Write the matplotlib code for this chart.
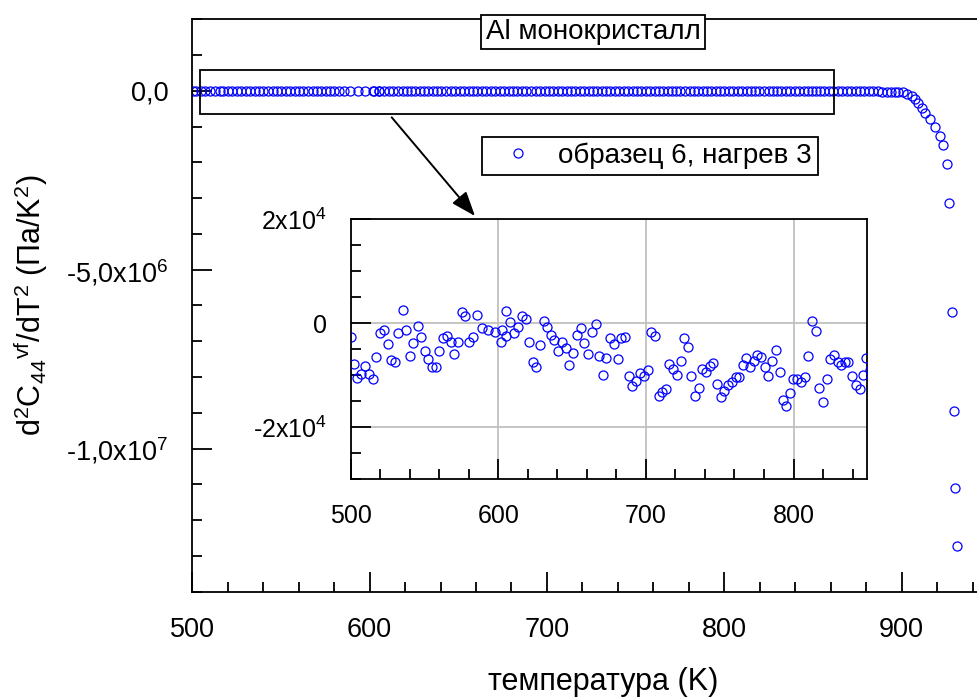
import matplotlib
matplotlib.use("Agg")
import matplotlib.pyplot as plt
from matplotlib.patches import Rectangle
from matplotlib.ticker import MultipleLocator, FixedLocator, FixedFormatter

plt.rcParams['font.family'] = 'Liberation Sans'
plt.rcParams['mathtext.default'] = 'regular'

# sample 6, heating 3: temperature (K) and d2C44/dT2 (Pa/K^2)
temp = [500.5, 502.3, 504.7, 507.0, 509.8, 512.6, 515.4, 517.5, 520.0, 522.6,
        525.2, 527.5, 530.3, 532.4, 535.2, 537.5, 540.1, 542.6, 545.4, 547.8,
        550.1, 552.6, 555.2, 557.8, 560.1, 562.7, 565.5, 567.8, 570.3, 572.7,
        575.2, 577.8, 580.1, 582.9, 585.5, 589.0, 593.4, 597.5, 601.8, 602.7,
        605.1, 605.3,
        608.1, 610.9, 613.4, 615.8, 618.6, 620.9, 623.5, 625.8, 628.3, 630.9,
        633.2, 635.8, 638.1, 640.5, 643.3, 645.8, 648.1, 650.7, 653.5, 655.8,
        658.2, 660.7, 663.3, 665.9, 668.2, 670.7, 673.3, 675.9, 678.4, 681.0,
        683.3, 686.1, 688.4, 690.8, 693.6, 696.1, 698.7, 701.3, 703.6, 706.1,
        708.7, 711.2, 713.6, 715.9, 718.5, 721.1, 723.6, 726.0, 728.3, 730.8,
        733.4,
        735.7, 738.3, 740.6, 743.4, 745.7, 748.3, 750.9, 753.2, 755.8, 758.3,
        760.7, 763.2, 765.5, 768.1, 770.7, 773.0, 775.3, 778.1, 780.7, 783.0,
        785.3, 787.9, 790.5, 792.6, 795.1, 797.5, 799.8, 802.6, 805.1, 807.5,
        810.0, 812.6, 814.9, 817.5, 819.8, 822.6, 825.0, 827.5, 829.8, 832.2,
        834.7, 837.1, 839.8, 842.4, 844.7, 847.1, 849.2,
        851.5, 854.0, 856.5, 859.0, 861.5, 864.0, 866.5, 869.0, 871.5, 874.0,
        876.5, 879.0, 881.5, 884.0, 886.5, 889.0, 891.5, 894.0, 896.0, 898.1,
        900.9, 903.2, 905.6, 907.5, 909.4, 911.3, 913.1, 915.9, 918.7, 921.5,
        923.4, 925.4, 926.7, 928.4, 929.3, 930.2, 931.0]

d2c44 = [-2700, -7900, -10600, -9700, -8200, -9800, -10800, -6600, -1900, -1300,
         -4100, -7100, -7400, -1900, 2500, -1400, -6400, -3800, -500, -2700,
         -5400, -7000, -8500, -8400, -5400, -2900, -2400, -3600, -6000, -3600,
         2100, 1300, -3700, -2700, 1500, -1000, -1400, -1700, -3600, -1300,
         -2500, 2400,
         200, -1900, -800, 1400, 700, -3600, -7500, -8400, -4300, 400,
         -800, -2200, -3200, -5300, -3700, -4800, -8000, -5700, -2300, -900,
         -3800, -6000, -1700, -200, -6400, -9900, -6800, -2800, -4100, -7000,
         -2900, -2700, -10100, -12100, -11100, -9600, -10100, -9000, -1800, -2400,
         -14100, -13300, -12700, -7800, -8800, -9900, -7200, -2800, -4500, -10100,
         -14000,
         -12500, -8900, -9400, -8300, -7600, -11700, -14300, -13100, -12000, -11300,
         -10300, -10400, -8000, -6700, -8400, -7300, -6200, -6600, -8400, -10100,
         -7200, -5200, -9500, -14800, -15900, -13500, -10800, -10800, -11400, -10400,
         -6400, 500, -1500, -12400, -15200, -10800, -6900, -6200, -7500, -8000,
         -7500, -7500, -10100, -12000, -12600, -10000, -6800,
         -9000, -10000, -9000, -11000, -10000, -12000, -11000, -13000, -12000, -14000,
         -13000, -15000, -16000, -17000, -19000, -21000, -24000, -27000, -30000, -33000,
         -40000, -80000, -157000, -240000, -340000, -470000, -610000, -780000, -1000000, -1250000,
         -1510000, -2040000, -3130000, -6170000, -8950000, -11100000, -12710000]

main_yticks = [0, -5e6, -1e7]
main_ylabels = ['0,0', '-5,0x10$^6$', '-1,0x10$^7$']
inset_yticks = [2e4, 0, -2e4]
inset_ylabels = ['2x10$^4$', '0', '-2x10$^4$']

fig = plt.figure(figsize=(9.77, 6.98), dpi=100)
ax = fig.add_axes([0.1968, 0.1523, 0.8404, 0.8201])
ax.plot(temp, d2c44, 'o', ms=6.5, mfc='none', mec='blue', mew=0.9,
        label='образец 6, нагрев 3')
ax.set_xlim(500, 963)
ax.set_ylim(-1.4e7, 2e6)
ax.xaxis.set_major_locator(MultipleLocator(100))
ax.xaxis.set_minor_locator(MultipleLocator(20))
ax.yaxis.set_major_locator(FixedLocator(main_yticks))
ax.yaxis.set_major_formatter(FixedFormatter(main_ylabels))
ax.yaxis.set_minor_locator(MultipleLocator(1e6))
for s in ax.spines.values():
    s.set_linewidth(1.3)
ax.tick_params(which='both', direction='in', width=1.3, labelsize=19.5)
ax.tick_params(which='major', length=14.5, pad=18)
ax.tick_params(which='minor', length=7.2)
ax.tick_params(axis='y', pad=17)

ax.set_xlabel('температура (K)', fontsize=22)
ax.xaxis.set_label_coords(0.5, -0.132)
ax.set_ylabel('d$^2$C$_{44}{}^{vf}$/dT$^2$ (Па/K$^2$)', fontsize=22)
ax.yaxis.set_label_coords(-0.173, 0.5)

# frame around the region shown in the inset
ax.add_patch(Rectangle((504.3, -6.6e5), 357.5, 1.25e6, fill=False,
                       ec='black', lw=1.3, zorder=3))

leg = ax.legend(loc='center', bbox_to_anchor=(0.6653, 0.7767),
                bbox_transform=fig.transFigure, fontsize=20, frameon=True,
                fancybox=False, framealpha=1, edgecolor='black',
                handletextpad=0.38, borderpad=0.2, handlelength=2.16)
leg.get_frame().set_linewidth(1.3)

fig.text(0.607, 0.954, 'Al монокристалл', fontsize=20, ha='center', va='center',
         bbox=dict(boxstyle='square,pad=0.15', fc='white', ec='black', lw=1.3),
         zorder=5)

ax.annotate('', xy=(0.4862, 0.6905), xycoords='figure fraction',
            xytext=(0.4009, 0.8319), textcoords='figure fraction',
            arrowprops=dict(arrowstyle='-|>,head_length=0.75,head_width=0.28',
                            mutation_scale=20, lw=1.4, color='black',
                            shrinkA=0, shrinkB=0))

# inset: zoom on 500-850 K
ins = fig.add_axes([0.3588, 0.3138, 0.529, 0.3721])
ins.plot(temp, d2c44, 'o', ms=6.5, mfc='none', mec='blue', mew=0.9, zorder=3)
ins.set_xlim(500, 850)
ins.set_ylim(-3e4, 2e4)
ins.xaxis.set_major_locator(MultipleLocator(100))
ins.xaxis.set_minor_locator(MultipleLocator(20))
ins.yaxis.set_major_locator(FixedLocator(inset_yticks))
ins.yaxis.set_major_formatter(FixedFormatter(inset_ylabels))
ins.yaxis.set_minor_locator(MultipleLocator(5e3))
ins.grid(True, which='major', color='#c0c0c0', lw=1.3)
for s in ins.spines.values():
    s.set_linewidth(1.3)
ins.tick_params(which='both', direction='in', width=1.3, labelsize=18)
ins.tick_params(which='major', length=14.5, pad=18)
ins.tick_params(which='minor', length=7.2)
ins.tick_params(axis='y', pad=17)

fig.savefig('out.png', dpi=100)
